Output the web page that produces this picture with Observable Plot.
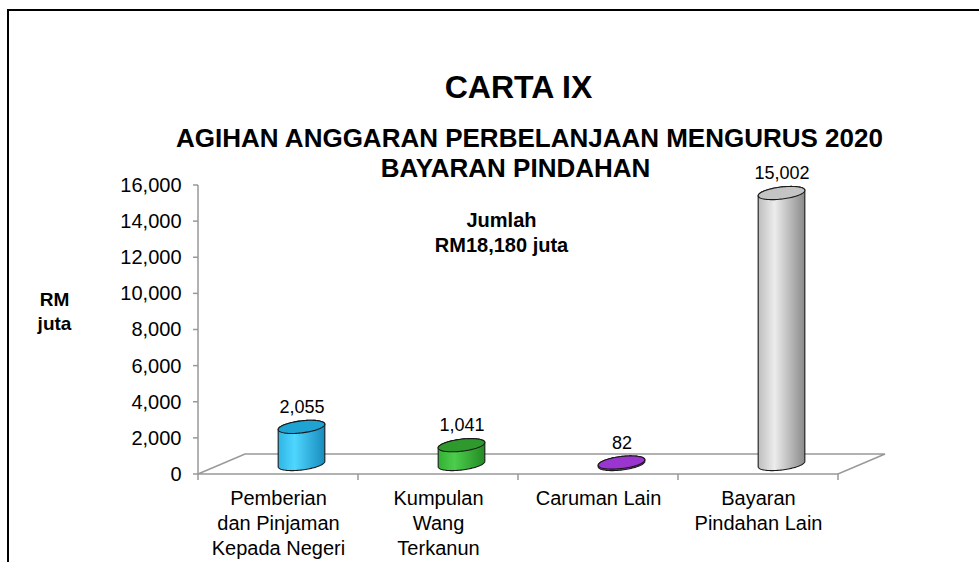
<!DOCTYPE html>
<html><head><meta charset="utf-8">
<script src="https://cdn.jsdelivr.net/npm/d3@7"></script>
<script src="https://cdn.jsdelivr.net/npm/@observablehq/plot@0.6"></script>
<style>
html,body{margin:0;padding:0;background:#fff;}
#wrap{position:relative;width:979px;height:562px;overflow:hidden;}
#frame{position:absolute;left:7px;top:9px;right:-10px;bottom:-10px;border-left:2px solid #000;border-top:2px solid #000;pointer-events:none;}
svg{display:block}
</style></head><body><div id="wrap"><div id="frame"></div></div>
<script>
// ---- data ----
const categories = ["Pemberian dan Pinjaman Kepada Negeri", "Kumpulan Wang Terkanun", "Caruman Lain", "Bayaran Pindahan Lain"];
const categoryLabels = ["Pemberian\ndan Pinjaman\nKepada Negeri", "Kumpulan\nWang\nTerkanun", "Caruman Lain", "Bayaran\nPindahan Lain"];
const values = [2055, 1041, 82, 15002];
const yTicks = [0, 2000, 4000, 6000, 8000, 10000, 12000, 14000, 16000];
const titleText = "CARTA IX";
const subtitleLine1 = "AGIHAN ANGGARAN PERBELANJAAN MENGURUS 2020";
const subtitleLine2 = "BAYARAN PINDAHAN";
const totalText = "Jumlah\nRM18,180 juta";
const unitText = "RM\njuta";

// ---- styles ----
const bodyStops = [
  ["#2db5e4", "#4fd6ff", "#178cbd"],
  ["#33b033", "#4ccc4c", "#238a23"],
  ["#7f2cb3", "#a546d9", "#5e1f87"],
  ["#bdbdbd", "#ececec", "#8a8a8a"]
];
const topColors = ["#1fa3d3", "#2e9a2e", "#9b35cf", "#c4c4c4"];

const data = categories.map((c, i) => ({category: c, value: values[i]}));
const fmt = d3.format(",");
const FONT = "'Liberation Sans', Arial, Helvetica, sans-serif";

const DX = 47, DY = -20; // 3D depth offset (px)

function scene(index, scales) {
  const {x, y} = scales;
  const bw = x(categories[1]) - x(categories[0]);
  const x0 = x(categories[0]);
  const x1 = x(categories[categories.length - 1]) + bw;
  const y0 = y(0);
  const g = d3.create("svg:g");
  const defs = g.append("defs");
  const axisColor = "#999";

  // floor
  g.append("path")
    .attr("d", `M${x0},${y0}L${x1},${y0}L${x1 + DX},${y0 + DY}L${x0 + DX},${y0 + DY}Z`)
    .attr("fill", "none").attr("stroke", axisColor).attr("stroke-width", 1.5);
  // y axis line
  g.append("line").attr("x1", x0).attr("x2", x0).attr("y1", y0).attr("y2", y(yTicks[yTicks.length - 1]))
    .attr("stroke", axisColor).attr("stroke-width", 1.5);
  // y ticks
  for (const t of yTicks) {
    g.append("line").attr("x1", x0 - 5).attr("x2", x0).attr("y1", y(t)).attr("y2", y(t))
      .attr("stroke", axisColor).attr("stroke-width", 1.5);
  }
  // x ticks at band boundaries
  for (let i = 0; i <= categories.length; i++) {
    const xx = x0 + i * bw;
    g.append("line").attr("x1", xx).attr("x2", xx).attr("y1", y0).attr("y2", y0 + 6)
      .attr("stroke", axisColor).attr("stroke-width", 1.5);
  }

  // cylinders
  const N = 96, rx = 23.5, ry = 6, phi = -7 * Math.PI / 180;
  const pts = d3.range(N).map(k => {
    const t = 2 * Math.PI * k / N;
    return [rx * Math.cos(t) * Math.cos(phi) - ry * Math.sin(t) * Math.sin(phi),
            rx * Math.cos(t) * Math.sin(phi) + ry * Math.sin(t) * Math.cos(phi)];
  });
  let iL = 0, iR = 0;
  pts.forEach((p, k) => { if (p[0] < pts[iL][0]) iL = k; if (p[0] > pts[iR][0]) iR = k; });

  data.forEach((d, i) => {
    const cx = x(d.category) + bw / 2 + DX / 2;
    const cb = y0 + DY / 2;
    const ct = y(d.value) + DY / 2;
    const gid = "cylgrad" + i;
    const lg = defs.append("linearGradient").attr("id", gid).attr("x1", 0).attr("x2", 1).attr("y1", 0).attr("y2", 0);
    lg.append("stop").attr("offset", "0%").attr("stop-color", bodyStops[i][0]);
    lg.append("stop").attr("offset", "35%").attr("stop-color", bodyStops[i][1]);
    lg.append("stop").attr("offset", "100%").attr("stop-color", bodyStops[i][2]);

    let p = `M${cx + pts[iR][0]},${ct + pts[iR][1]}L${cx + pts[iR][0]},${cb + pts[iR][1]}`;
    for (let k = iR; k !== iL; k = (k + 1) % N) p += `L${cx + pts[k][0]},${cb + pts[k][1]}`;
    p += `L${cx + pts[iL][0]},${cb + pts[iL][1]}L${cx + pts[iL][0]},${ct + pts[iL][1]}`;
    for (let k = iL; k !== iR; k = (k + 1) % N) p += `L${cx + pts[k][0]},${ct + pts[k][1]}`;
    p += "Z";
    g.append("path").attr("d", p).attr("fill", `url(#${gid})`).attr("stroke", "#1a1a1a").attr("stroke-width", 1.1);
    const top = pts.map(q => `${cx + q[0]},${ct + q[1]}`).join("L");
    g.append("path").attr("d", `M${top}Z`).attr("fill", topColors[i]).attr("stroke", "#1a1a1a").attr("stroke-width", 1.1);
  });
  return g.node();
}

const chart = Plot.plot({
  width: 979,
  height: 562,
  marginLeft: 198,
  marginRight: 141,
  marginTop: 185,
  marginBottom: 88,
  style: {fontFamily: FONT, fontSize: "20px", color: "#000", background: "transparent", overflow: "visible"},
  x: {type: "band", domain: categories, padding: 0, axis: null},
  y: {domain: [0, 16000], axis: null},
  marks: [
    scene,
    Plot.text(yTicks, {y: d => d, text: d => fmt(d), frameAnchor: "left", textAnchor: "end", dx: -17, fontSize: 20, fill: "#000"}),
    Plot.text(data, {x: "category", y: "value", text: d => fmt(d.value), dx: DX / 2, dy: -30, fontSize: 18, fill: "#000"}),
    Plot.text(categories, {x: d => d, text: (d, i) => categoryLabels[i], frameAnchor: "bottom", lineAnchor: "top", dy: 13, lineHeight: 1.25, fontSize: 20, fill: "#000"}),
    Plot.text([titleText], {text: d => d, frameAnchor: "top", lineAnchor: "middle", dy: -98, fontSize: 32, fontWeight: "bold", fill: "#000"}),
    Plot.text([subtitleLine1], {text: d => d, frameAnchor: "top", lineAnchor: "middle", dx: 11, dy: -47, fontSize: 26, fontWeight: "bold", fill: "#000"}),
    Plot.text([subtitleLine2], {text: d => d, frameAnchor: "top", lineAnchor: "middle", dx: -3, dy: -17, fontSize: 26, fontWeight: "bold", fill: "#000"}),
    Plot.text([totalText], {text: d => d, frameAnchor: "top", lineAnchor: "middle", dx: -17, dy: 45.5, lineHeight: 1.25, fontSize: 20, fontWeight: "bold", fill: "#000"}),
    Plot.text([unitText], {text: d => d, frameAnchor: "left", lineAnchor: "middle", textAnchor: "middle", dx: -144, dy: -19.5, lineHeight: 1.25, fontSize: 19, fontWeight: "bold", fill: "#000"})
  ]
});
document.getElementById("wrap").insertBefore(chart, document.getElementById("frame"));
</script>
</body></html>
